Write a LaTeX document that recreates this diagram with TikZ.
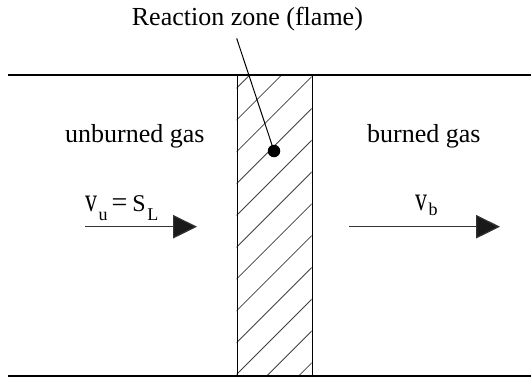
\documentclass[tikz,border=0pt]{standalone}
\usepackage{fontspec}
\usepackage{graphicx}
\setmainfont{Liberation Serif}
\usetikzlibrary{arrows.meta}
\begin{document}
\begin{tikzpicture}[x=1pt,y=-1pt,
  lbl/.style={inner sep=0pt, font=\fontsize{26}{30}\selectfont},
  sym/.style={inner sep=0pt, font=\fontsize{24}{28}\selectfont},
  wall/.style={line width=2pt},
  hatchline/.style={line width=0.8pt, black!75},
  flow/.style={line width=1.2pt, black!80, -{Triangle[length=24pt,width=23.5pt,fill=black!90]}},
]
\useasboundingbox (0,0) rectangle (531,378);
% walls
\coordinate (tl) at (8,75); \coordinate (tr) at (531,75);
\coordinate (bl) at (8,376); \coordinate (br) at (531,376);
% hatching
\begin{scope}
  \clip (236.7,75) rectangle (311.7,376);
  \foreach \k in {-2,...,9} {
    \pgfmathsetmacro\c{388.4+31.8*\k}
    \draw[hatchline] ({\c-376},376) -- ({\c-75},75);
  }
\end{scope}
\node[draw, line width=1.2pt, minimum width=75pt, minimum height=301pt, inner sep=0pt, anchor=north west] (zone) at (236.7,75) {};
\draw[wall] (tl) -- (tr);
\draw[wall] (bl) -- (br);
% leader and dot
\node[circle, fill, minimum size=12.5pt, inner sep=0pt] (dot) at (274,151) {};
\coordinate (lt) at (236.7,38.4);
\draw[line width=1pt] (lt) -- (dot.center);
% labels
\node[lbl, anchor=base west] (title) at (131.7,25) {Reaction zone (flame)};
\node[lbl, anchor=base west] (ub) at (65,142.7) {unburned gas};
\node[lbl, anchor=base west] (bg) at (367,142.7) {burned gas};
\node[sym, anchor=base west] (vu) at (85,211.7) {\scalebox{1}[1.4]{v}\hspace{1.5pt}\raisebox{-9pt}{\fontsize{18}{20}\selectfont u}\hspace{4pt}{\fontsize{28}{30}\selectfont =}\hspace{5pt}S\hspace{1.5pt}\raisebox{-9pt}{\fontsize{18}{20}\selectfont L}};
\node[sym, anchor=base west] (vb) at (415,210) {\scalebox{1}[1.4]{v}\hspace{1.5pt}\raisebox{-5pt}{\fontsize{18}{20}\selectfont b}};
% arrows
\coordinate (a1s) at (85,226.7); \coordinate (a1e) at (197,226.7);
\coordinate (a2s) at (349.3,226.7); \coordinate (a2e) at (500,226.7);
\draw[flow] (a1s) -- (a1e);
\draw[flow] (a2s) -- (a2e);
\end{tikzpicture}
\end{document}
